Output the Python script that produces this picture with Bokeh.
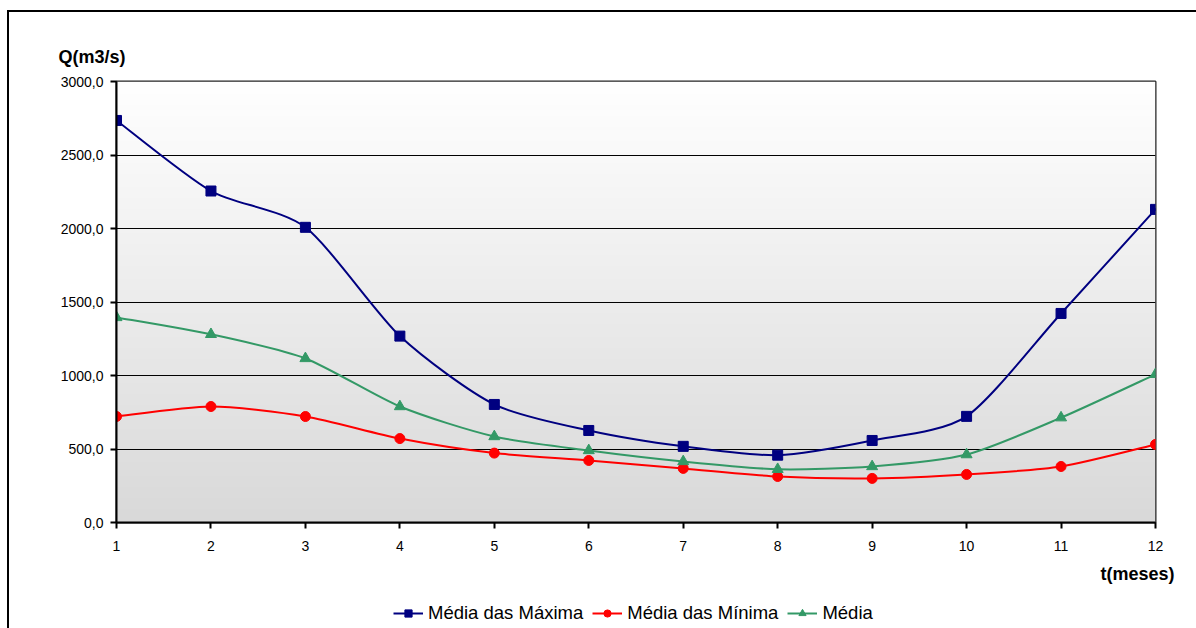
import numpy as np
from bokeh.plotting import figure
from bokeh.layouts import column
from bokeh.models import (Range1d, FixedTicker, Legend, LegendItem, Title,
                          ColumnDataSource)
from bokeh.embed import file_html
from bokeh.resources import INLINE

# ---------------- data ----------------
months = [1, 2, 3, 4, 5, 6, 7, 8, 9, 10, 11, 12]
media_maxima = [2735, 2255, 2008, 1268, 803, 626, 518, 458, 558, 722, 1422, 2130]
media_minima = [721, 789, 721, 571, 472, 422, 368, 313, 300, 327, 381, 531]
media = [1395, 1280, 1116, 789, 585, 490, 415, 362, 381, 462, 713, 1008]

y_ticks = [0, 500, 1000, 1500, 2000, 2500, 3000]
y_tick_labels = ["0,0", "500,0", "1000,0", "1500,0", "2000,0", "2500,0", "3000,0"]
x_ticks = months
x_tick_labels = [str(m) for m in months]

series_names = ["Média das Máxima", "Média das Mínima", "Média"]

FONT = "Liberation Sans"

# ---------------- main figure ----------------
p = figure(width=1187, height=588, output_backend="svg", toolbar_location=None,
           x_range=Range1d(1, 12), y_range=Range1d(0, 3000),
           min_border_left=107, min_border_right=41,
           min_border_top=69, min_border_bottom=78)
p.background_fill_color = "white"
p.border_fill_color = "white"
p.outline_line_color = "#222222"
p.outline_line_width = 2

# gradient background (decoration of the plot area)
n = 200
shade = np.linspace(217, 255, n).astype(np.uint32)
img = np.empty((n, 1), dtype=np.uint32)
view = img.view(dtype=np.uint8).reshape((n, 1, 4))
view[:, 0, 0] = shade
view[:, 0, 1] = shade
view[:, 0, 2] = shade
view[:, 0, 3] = 255
p.image_rgba(image=[img], x=1, y=0, dw=11, dh=3000, level="image")

# grid
p.xgrid.visible = False
p.ygrid.ticker = FixedTicker(ticks=y_ticks)
p.ygrid.grid_line_color = "black"
p.ygrid.grid_line_width = 1.2
p.ygrid.level = "underlay"

# axes
p.yaxis.ticker = FixedTicker(ticks=y_ticks)
p.yaxis.major_label_overrides = {t: l for t, l in zip(y_ticks, y_tick_labels)}
p.xaxis.ticker = FixedTicker(ticks=x_ticks)
p.xaxis.major_label_overrides = {t: l for t, l in zip(x_ticks, x_tick_labels)}
for ax in (p.xaxis, p.yaxis):
    ax.axis_line_color = "black"
    ax.axis_line_width = 2
    ax.major_tick_line_color = "black"
    ax.major_tick_line_width = 2
    ax.major_tick_out = 6
    ax.major_tick_in = 0
    ax.minor_tick_line_color = None
    ax.major_label_text_font = FONT
    ax.major_label_text_font_size = "14px"
    ax.major_label_text_color = "black"
p.yaxis.major_label_standoff = 7
p.xaxis.major_label_standoff = 12


def smooth(xs, ys, k=8.0):
    n = len(xs)
    x0, y0, x1, y1, cx0, cy0, cx1, cy1 = [], [], [], [], [], [], [], []
    for i in range(n - 1):
        a = i - 1 if i > 0 else i
        d = i + 2 if i + 2 < n else i + 1
        x0.append(xs[i]); y0.append(ys[i])
        x1.append(xs[i + 1]); y1.append(ys[i + 1])
        cx0.append(xs[i] + (xs[i + 1] - xs[a]) / k)
        cy0.append(ys[i] + (ys[i + 1] - ys[a]) / k)
        cx1.append(xs[i + 1] - (xs[d] - xs[i]) / k)
        cy1.append(ys[i + 1] - (ys[d] - ys[i]) / k)
    return dict(x0=x0, y0=y0, x1=x1, y1=y1, cx0=cx0, cy0=cy0, cx1=cx1, cy1=cy1)


styles = [
    (media_maxima, "#000080", "square", 10),
    (media_minima, "#FF0000", "circle", 10),
    (media, "#339966", "triangle", 11),
]

for vals, color, marker, size in styles:
    src = ColumnDataSource(smooth(months, vals))
    p.bezier(x0="x0", y0="y0", x1="x1", y1="y1", cx0="cx0", cy0="cy0",
             cx1="cx1", cy1="cy1", source=src, line_color=color, line_width=2)
    p.scatter(months, vals, marker=marker, size=size,
              fill_color=color, line_color=color)
    if marker == "square":
        p.scatter(months, vals, marker="x", size=size + 3,
                  line_color=color, line_width=1.5)

# axis titles placed beside the frame
p.add_layout(Title(text="Q(m3/s)", align="left", offset=-58, standoff=30,
                   text_font=FONT, text_font_size="18px",
                   text_font_style="bold", text_color="black"), "above")
p.add_layout(Title(text="t(meses)", align="right", offset=-19, standoff=16,
                   text_font=FONT, text_font_size="18px",
                   text_font_style="bold", text_color="black"), "below")

# ---------------- legend strip ----------------
lf = figure(width=1187, height=28, output_backend="svg", toolbar_location=None,
            x_range=Range1d(0, 1), y_range=Range1d(0, 1),
            x_axis_type=None, y_axis_type=None,
            min_border_left=0, min_border_right=0,
            min_border_top=0, min_border_bottom=0)
lf.outline_line_color = None
lf.background_fill_color = "white"
lf.border_fill_color = "white"
lf.xgrid.visible = False
lf.ygrid.visible = False

items = []
for name, (vals, color, marker, size) in zip(series_names, styles):
    rs = [lf.line(x=[0.5], y=[float("nan")], line_color=color, line_width=2),
          lf.scatter(x=[0.5], y=[float("nan")], marker=marker, size=size - 1,
                     fill_color=color, line_color=color)]
    if marker == "square":
        rs.append(lf.scatter(x=[0.5], y=[float("nan")], marker="x",
                             size=size + 2, line_color=color, line_width=1.5))
    items.append(LegendItem(label=name, renderers=rs))

legend = Legend(items=items, orientation="horizontal", location=(277, 4),
                glyph_width=30, glyph_height=18, label_standoff=5, spacing=9,
                padding=0, margin=0, border_line_alpha=0,
                background_fill_alpha=0, label_text_font=FONT,
                label_text_font_size="18.5px", label_text_color="black")
lf.add_layout(legend, "center")

layout = column(p, lf, spacing=0)
layout.margin = (10, 0, 0, 7)
layout.styles = {"border-left": "2px solid black", "border-top": "2px solid black"}

open("out.html", "w").write(file_html(layout, INLINE))
